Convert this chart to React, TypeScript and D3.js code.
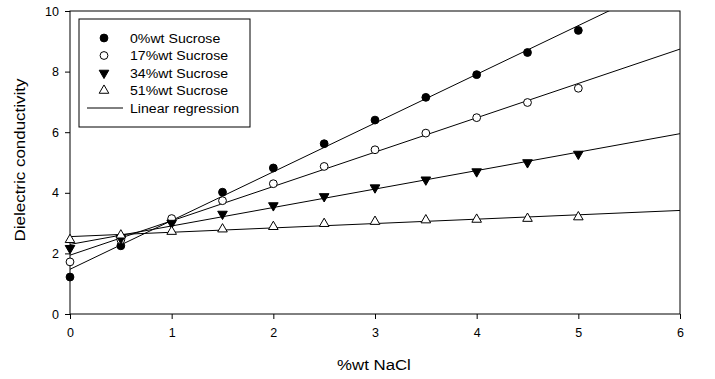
import React, { useRef, useEffect } from "react";
import * as d3 from "d3";

const nacl = [0, 0.5, 1, 1.5, 2, 2.5, 3, 3.5, 4, 4.5, 5];
const sucrose0 = [1.22, 2.25, 3.1, 4.02, 4.82, 5.62, 6.4, 7.15, 7.9, 8.63, 9.36];
const sucrose17 = [1.72, 2.45, 3.15, 3.74, 4.3, 4.87, 5.42, 5.97, 6.48, 6.98, 7.45];
const sucrose34 = [2.17, 2.5, 3.0, 3.3, 3.58, 3.88, 4.17, 4.43, 4.7, 5.0, 5.28];
const sucrose51 = [2.45, 2.6, 2.72, 2.8, 2.88, 2.98, 3.05, 3.1, 3.12, 3.15, 3.2];

const seriesNames = ["0%wt Sucrose", "17%wt Sucrose", "34%wt Sucrose", "51%wt Sucrose"];
const xTicks = [0, 1, 2, 3, 4, 5, 6];
const yTicks = [0, 2, 4, 6, 8, 10];

const W = 715;
const H = 379;
const m = { left: 70, right: 35, top: 11, bottom: 65 };

function fit(xs: number[], ys: number[]) {
  const mx = d3.mean(xs)!;
  const my = d3.mean(ys)!;
  let sxy = 0, sxx = 0;
  for (let i = 0; i < xs.length; i++) {
    sxy += (xs[i] - mx) * (ys[i] - my);
    sxx += (xs[i] - mx) ** 2;
  }
  const b = sxy / sxx;
  return { a: my - b * mx, b };
}

// widen text a bit, the original export is stretched horizontally
function stretch(sel: any, k: number) {
  sel.each(function (this: SVGTextElement) {
    const w = this.getComputedTextLength();
    d3.select(this).attr("textLength", w * k).attr("lengthAdjust", "spacingAndGlyphs");
  });
}

const App = () => {
  const ref = useRef<SVGSVGElement>(null);

  useEffect(() => {
    const svg = d3.select(ref.current);
    svg.selectAll("*").remove();

    const x = d3.scaleLinear().domain([0, 6]).range([m.left, W - m.right]);
    const y = d3.scaleLinear().domain([0, 10]).range([H - m.bottom, m.top]);

    const font = "Liberation Sans, Arial, sans-serif";
    const series = [sucrose0, sucrose17, sucrose34, sucrose51];
    const symbols = [
      { type: d3.symbolCircle, fill: "#000", rot: 0, size: 48 },
      { type: d3.symbolCircle, fill: "#fff", rot: 0, size: 48 },
      { type: d3.symbolTriangle, fill: "#000", rot: 180, size: 40 },
      { type: d3.symbolTriangle, fill: "#fff", rot: 0, size: 40 },
    ];

    svg.append("defs").append("clipPath").attr("id", "plotclip")
      .append("rect")
      .attr("x", m.left).attr("y", m.top)
      .attr("width", W - m.left - m.right).attr("height", H - m.top - m.bottom);

    // frame
    svg.append("rect")
      .attr("x", m.left).attr("y", m.top)
      .attr("width", W - m.left - m.right).attr("height", H - m.top - m.bottom)
      .attr("fill", "none").attr("stroke", "#000").attr("stroke-width", 1);

    // regression lines
    const lines = svg.append("g").attr("clip-path", "url(#plotclip)");
    series.forEach(ys => {
      const { a, b } = fit(nacl, ys);
      lines.append("line")
        .attr("x1", x(0)).attr("y1", y(a))
        .attr("x2", x(6)).attr("y2", y(a + b * 6))
        .attr("stroke", "#000").attr("stroke-width", 1);
    });

    // points
    series.forEach((ys, i) => {
      const s = symbols[i];
      const sym = d3.symbol().type(s.type).size(s.size);
      svg.append("g").selectAll("path")
        .data(ys)
        .join("path")
        .attr("d", sym)
        .attr("transform", (d, j) => `translate(${x(nacl[j])},${y(d)}) rotate(${s.rot})`)
        .attr("fill", s.fill).attr("stroke", "#000").attr("stroke-width", 1);
    });

    // axes
    const xAxis = svg.append("g")
      .attr("transform", `translate(0,${H - m.bottom})`)
      .call(d3.axisBottom(x).tickValues(xTicks).tickSize(5).tickPadding(9).tickFormat(d3.format("d")));
    const yAxis = svg.append("g")
      .attr("transform", `translate(${m.left},0)`)
      .call(d3.axisLeft(y).tickValues(yTicks).tickSize(5).tickPadding(6).tickFormat(d3.format("d")));
    [xAxis, yAxis].forEach(g => {
      g.select(".domain").remove();
      g.selectAll("text").attr("font-family", font).attr("font-size", 12.5).attr("fill", "#000");
      g.selectAll("line").attr("stroke", "#000");
    });

    const xt = svg.append("text")
      .attr("x", 374).attr("y", 370)
      .attr("text-anchor", "middle")
      .attr("font-family", font).attr("font-size", 14)
      .text("%wt NaCl");
    stretch(xt, 1.2);

    const yt = svg.append("text")
      .attr("transform", `translate(25,160) rotate(-90)`)
      .attr("text-anchor", "middle")
      .attr("font-family", font).attr("font-size", 14)
      .text("Dielectric conductivity");
    stretch(yt, 1.21);

    // legend
    const lg = svg.append("g");
    lg.append("rect")
      .attr("x", 79).attr("y", 19).attr("width", 171).attr("height", 108)
      .attr("fill", "#fff").attr("stroke", "#000");
    const labels = [...seriesNames, "Linear regression"];
    labels.forEach((t, i) => {
      const cy = 38 + i * 17.5;
      if (i < 4) {
        const s = symbols[i];
        lg.append("path")
          .attr("d", d3.symbol().type(s.type).size(s.size)())
          .attr("transform", `translate(104,${cy}) rotate(${s.rot})`)
          .attr("fill", s.fill).attr("stroke", "#000");
      } else {
        lg.append("line")
          .attr("x1", 87).attr("x2", 123).attr("y1", cy).attr("y2", cy)
          .attr("stroke", "#000");
      }
      const tx = lg.append("text")
        .attr("x", 130).attr("y", cy + 4.5)
        .attr("font-family", font).attr("font-size", 12.5)
        .text(t);
      stretch(tx, 1.13);
    });
  }, []);

  return <svg ref={ref} width={W} height={H} style={{ display: "block", position: "absolute", left: 0, top: 0, background: "#fff" }} />;
};

export default App;
